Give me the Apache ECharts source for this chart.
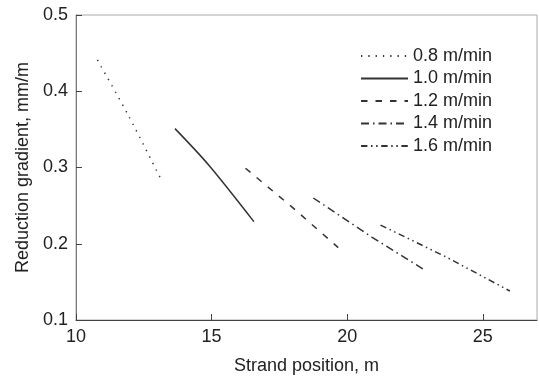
<!DOCTYPE html>
<html>
<head>
<meta charset="utf-8">
<script src="https://cdn.jsdelivr.net/npm/echarts@6/dist/echarts.min.js"></script>
<style>
  html, body { margin: 0; padding: 0; background: #fff; }
  #chart { width: 539px; height: 376px; }
</style>
</head>
<body>
<div id="chart"></div>
<script>
// Casting speeds and the reduction-gradient curves along the strand
const speedLabels = ['0.8 m/min', '1.0 m/min', '1.2 m/min', '1.4 m/min', '1.6 m/min'];

// [strand position (m), reduction gradient (mm/m)]
const speed08 = [[10.79, 0.441], [11.95, 0.367], [13.10, 0.287]];
const speed10 = [[13.65, 0.351], [14.90, 0.303], [16.56, 0.229]];
const speed12 = [[16.25, 0.299], [17.97, 0.248], [19.67, 0.195]];
const speed14 = [[18.75, 0.260], [20.92, 0.2085], [22.79, 0.167]];
const speed16 = [[21.23, 0.2245], [23.63, 0.183], [26.00, 0.138]];

const xTicks = [10, 15, 20, 25];
const yTicks = [0.1, 0.2, 0.3, 0.4, 0.5];

const seriesData = [speed08, speed10, speed12, speed14, speed16];
// dotted, solid, dashed, dash-dot, dash-dot-dot
const dashStyles = [
  [1.3, 6],
  'solid',
  [6.5, 8],
  [8, 4, 1.5, 4],
  [6.4, 3.6, 1.5, 3.6, 1.5, 3.6]
];
const smoothness = [0.3, 0.3, 0, 0, 0];

const FONT = "'Liberation Sans', Arial, sans-serif";
const TEXT = '#222';

const chart = echarts.init(document.getElementById('chart'), null, { renderer: 'canvas' });

chart.setOption({
  animation: false,
  backgroundColor: '#fff',
  grid: {
    left: 76, top: 15, right: 2, bottom: 56,
    outerBoundsMode: 'none',
    containLabel: false,
    show: true, borderColor: '#aaa', borderWidth: 1
  },
  legend: {
    show: true,
    orient: 'vertical',
    left: 355, top: 42,
    itemWidth: 47, itemHeight: 12, itemGap: 4.5,
    data: speedLabels,
    itemStyle: { opacity: 0 },
    textStyle: { fontFamily: FONT, fontSize: 18, color: TEXT }
  },
  xAxis: {
    type: 'value',
    min: 10, max: 27, interval: 5,
    name: 'Strand position, m',
    nameLocation: 'middle',
    nameGap: 37,
    nameTextStyle: { fontFamily: FONT, fontSize: 18, color: TEXT },
    axisLine: { onZero: false, lineStyle: { color: '#444', width: 1 } },
    axisTick: { inside: true, length: 6, lineStyle: { color: '#444' } },
    axisLabel: {
      fontFamily: FONT, fontSize: 18, color: TEXT, margin: 8,
      showMaxLabel: false,
      formatter: v => (xTicks.includes(v) ? String(v) : '')
    },
    splitLine: { show: false }
  },
  yAxis: {
    type: 'value',
    min: 0.1, max: 0.5, interval: 0.1,
    name: 'Reduction gradient, mm/m',
    nameLocation: 'middle',
    nameGap: 44,
    nameTextStyle: { fontFamily: FONT, fontSize: 18, color: TEXT },
    axisLine: { onZero: false, lineStyle: { color: '#777', width: 1 } },
    axisTick: { inside: true, length: 6, lineStyle: { color: '#444' } },
    axisLabel: {
      fontFamily: FONT, fontSize: 18, color: TEXT, margin: 8,
      formatter: v => {
        const t = yTicks.find(y => Math.abs(y - v) < 1e-9);
        return t === undefined ? '' : t.toFixed(1);
      }
    },
    splitLine: { show: false }
  },
  series: seriesData.map((data, i) => ({
    name: speedLabels[i],
    type: 'line',
    data: data,
    smooth: smoothness[i],
    symbol: 'none',
    lineStyle: { color: '#333', width: 1.5, type: dashStyles[i] },
    itemStyle: { color: '#333' }
  }))
});
</script>
</body>
</html>
